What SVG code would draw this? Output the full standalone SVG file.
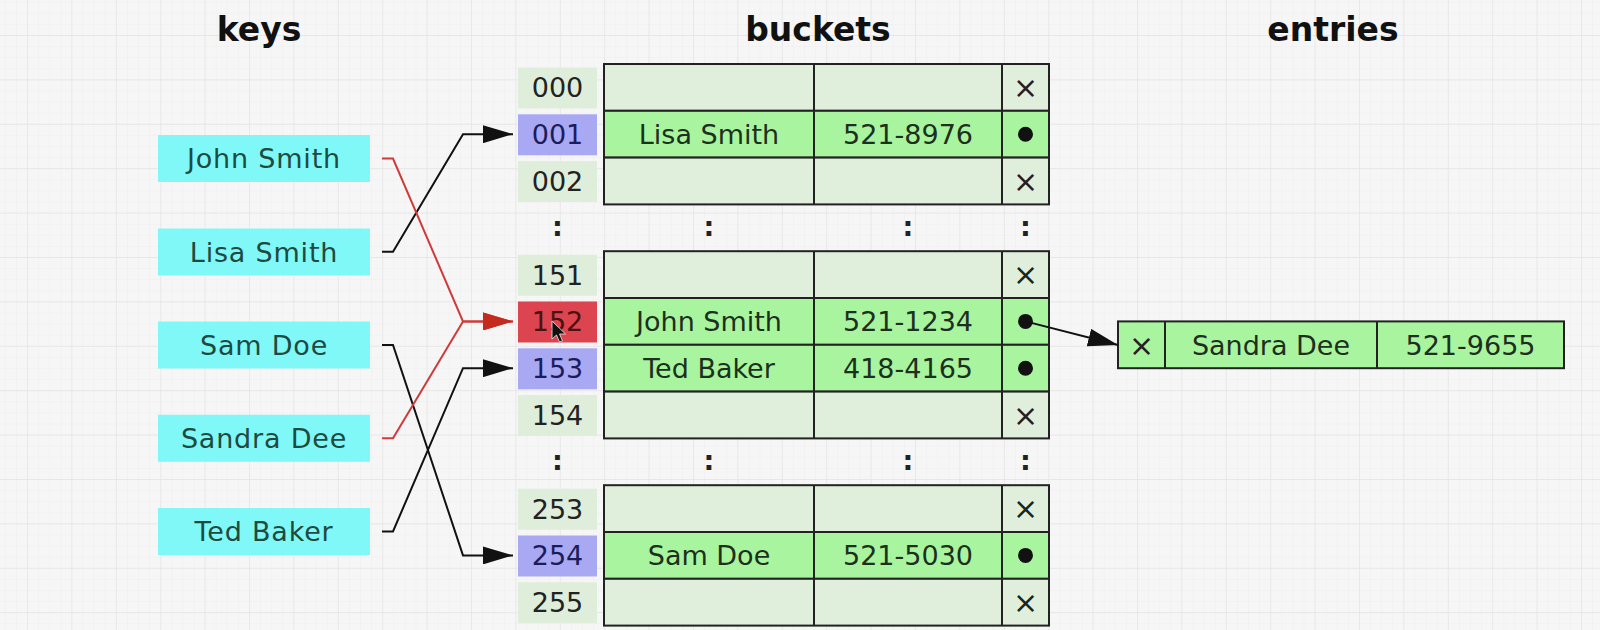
<svg xmlns="http://www.w3.org/2000/svg" width="1600" height="630" viewBox="0 0 1600 630">
<style>
.key{fill:#80f8f8}
.idx{fill:#dfeedb}
.idxb{fill:#a9a9f3}
.idxr{fill:#dc4450}
.empty{fill:#e0efdc;stroke:#222;stroke-width:2}
.full{fill:#a9f59f;stroke:#222;stroke-width:2}
.div{stroke:#222;stroke-width:2}
.t{font-family:"DejaVu Sans",sans-serif;font-size:27px;text-anchor:middle;fill:#1d2f1d}
.kt{font-family:"DejaVu Sans",sans-serif;font-size:27px;letter-spacing:0.8px;text-anchor:middle;fill:#1e4a40}
.it{font-family:"DejaVu Sans",sans-serif;font-size:27px;text-anchor:middle;fill:#222}
.x{font-family:"DejaVu Sans",sans-serif;font-size:30px;text-anchor:middle;fill:#222}
.dots{font-family:"DejaVu Sans",sans-serif;font-weight:bold;font-size:27px;text-anchor:middle;fill:#222}
.title{font-family:"DejaVu Sans",sans-serif;font-weight:bold;font-size:33px;text-anchor:middle;fill:#111}
.conn{fill:none;stroke:#111;stroke-width:2}
.red{fill:none;stroke:#cf3a3a;stroke-width:2}
</style>
<defs>
<pattern id="minor" patternUnits="userSpaceOnUse" x="27" y="35" width="11.1" height="11.1">
<path d="M0,0 H11.1 M0,0 V11.1" stroke="#eeeeee" stroke-width="1" fill="none"/>
</pattern>
<pattern id="major" patternUnits="userSpaceOnUse" x="27" y="35" width="44.4" height="44.4">
<path d="M0,0 H44.4 M0,0 V44.4" stroke="#e4e4e4" stroke-width="1.3" fill="none"/>
</pattern>
<marker id="ab" viewBox="0 0 30 18" refX="30" refY="9" markerWidth="30" markerHeight="18" markerUnits="userSpaceOnUse" orient="auto">
<path d="M0,0 L30,9 L0,18 z" fill="#111"/>
</marker>
<marker id="ar" viewBox="0 0 30 18" refX="30" refY="9" markerWidth="30" markerHeight="18" markerUnits="userSpaceOnUse" orient="auto">
<path d="M0,0 L30,9 L0,18 z" fill="#c42a1e"/>
</marker>
</defs>
<rect width="1600" height="630" fill="#f6f6f6"/>
<rect width="1600" height="630" fill="url(#minor)"/>
<rect width="1600" height="630" fill="url(#major)"/>

<g id="titles">
<text class="title" x="259" y="41">keys</text>
<text class="title" x="818" y="41">buckets</text>
<text class="title" x="1333" y="41">entries</text>
</g>

<g id="key-john"><rect class="key" x="158" y="135" width="212" height="47"/><text class="kt" x="264" y="168">John Smith</text></g>
<g id="key-lisa"><rect class="key" x="158" y="228.5" width="212" height="47"/><text class="kt" x="264" y="261.5">Lisa Smith</text></g>
<g id="key-sam"><rect class="key" x="158" y="321.5" width="212" height="47"/><text class="kt" x="264" y="354.5">Sam Doe</text></g>
<g id="key-sandra"><rect class="key" x="158" y="414.75" width="212" height="47"/><text class="kt" x="264" y="447.75">Sandra Dee</text></g>
<g id="key-ted"><rect class="key" x="158" y="508" width="212" height="47"/><text class="kt" x="264" y="541">Ted Baker</text></g>

<g id="index">
<rect class="idx" x="518" y="67.5" width="79" height="41"/><text class="it" x="557.5" y="97.4">000</text>
<rect class="idxb" x="518" y="114.3" width="79" height="41"/><text class="it" x="557.5" y="144.2" style="fill:#1c1c5a">001</text>
<rect class="idx" x="518" y="161.1" width="79" height="41"/><text class="it" x="557.5" y="191">002</text>
<text class="dots" x="557.5" y="235.5">:</text>
<rect class="idx" x="518" y="254.7" width="79" height="41"/><text class="it" x="557.5" y="284.6">151</text>
<rect class="idxr" x="518" y="301.5" width="79" height="41"/><text class="it" x="557.5" y="331.4" style="fill:#4a1212">152</text>
<rect class="idxb" x="518" y="348.3" width="79" height="41"/><text class="it" x="557.5" y="378.2" style="fill:#1c1c5a">153</text>
<rect class="idx" x="518" y="395.1" width="79" height="41"/><text class="it" x="557.5" y="425">154</text>
<text class="dots" x="557.5" y="469.5">:</text>
<rect class="idx" x="518" y="488.7" width="79" height="41"/><text class="it" x="557.5" y="518.6">253</text>
<rect class="idxb" x="518" y="535.5" width="79" height="41"/><text class="it" x="557.5" y="565.4" style="fill:#1c1c5a">254</text>
<rect class="idx" x="518" y="582.3" width="79" height="41"/><text class="it" x="557.5" y="612.2">255</text>
</g>

<g id="bucket-block1">
<rect class="empty" x="604" y="64" width="445" height="46.8"/>
<rect class="full" x="604" y="110.8" width="445" height="46.8"/>
<rect class="empty" x="604" y="157.6" width="445" height="46.8"/>
<line class="div" x1="814" y1="64" x2="814" y2="204.4"/>
<line class="div" x1="1002" y1="64" x2="1002" y2="204.4"/>
<text class="x" x="1025.5" y="98.2">×</text>
<text class="t" x="709" y="144.2">Lisa Smith</text><text class="t" x="908" y="144.2">521-8976</text>
<circle cx="1025.5" cy="134.2" r="7.5" fill="#111"/>
<text class="x" x="1025.5" y="191.8">×</text>
</g>

<g id="dots1">
<text class="dots" x="709" y="235.5">:</text>
<text class="dots" x="908" y="235.5">:</text>
<text class="dots" x="1025.5" y="235.5">:</text>
</g>

<g id="bucket-block2">
<rect class="empty" x="604" y="251.2" width="445" height="46.8"/>
<rect class="full" x="604" y="298" width="445" height="46.8"/>
<rect class="full" x="604" y="344.8" width="445" height="46.8"/>
<rect class="empty" x="604" y="391.6" width="445" height="46.8"/>
<line class="div" x1="814" y1="251.2" x2="814" y2="438.4"/>
<line class="div" x1="1002" y1="251.2" x2="1002" y2="438.4"/>
<text class="x" x="1025.5" y="285.4">×</text>
<text class="t" x="709" y="331.4">John Smith</text><text class="t" x="908" y="331.4">521-1234</text>
<circle cx="1025.5" cy="321.4" r="7.5" fill="#111"/>
<text class="t" x="709" y="378.2">Ted Baker</text><text class="t" x="908" y="378.2">418-4165</text>
<circle cx="1025.5" cy="368.2" r="7.5" fill="#111"/>
<text class="x" x="1025.5" y="425.8">×</text>
</g>

<g id="dots2">
<text class="dots" x="709" y="469.5">:</text>
<text class="dots" x="908" y="469.5">:</text>
<text class="dots" x="1025.5" y="469.5">:</text>
</g>

<g id="bucket-block3">
<rect class="empty" x="604" y="485.2" width="445" height="46.8"/>
<rect class="full" x="604" y="532" width="445" height="46.8"/>
<rect class="empty" x="604" y="578.8" width="445" height="46.8"/>
<line class="div" x1="814" y1="485.2" x2="814" y2="625.6"/>
<line class="div" x1="1002" y1="485.2" x2="1002" y2="625.6"/>
<text class="x" x="1025.5" y="519.4">×</text>
<text class="t" x="709" y="565.4">Sam Doe</text><text class="t" x="908" y="565.4">521-5030</text>
<circle cx="1025.5" cy="555.4" r="7.5" fill="#111"/>
<text class="x" x="1025.5" y="613">×</text>
</g>

<g id="entry-sandra">
<rect class="full" x="1118" y="321.4" width="446" height="46.8"/>
<line class="div" x1="1165" y1="321.4" x2="1165" y2="368.2"/>
<line class="div" x1="1377" y1="321.4" x2="1377" y2="368.2"/>
<text class="x" x="1141.5" y="355.6">×</text>
<text class="t" x="1271" y="354.8">Sandra Dee</text>
<text class="t" x="1470.5" y="354.8">521-9655</text>
</g>

<g id="connectors">
<path class="conn" d="M382,251.75 H393 L463,134.2 H513" marker-end="url(#ab)"/>
<path class="conn" d="M382,345 H393 L463,555.4 H513" marker-end="url(#ab)"/>
<path class="conn" d="M382,531.5 H393 L463,368.2 H513" marker-end="url(#ab)"/>
<path class="red" d="M382,158.5 H393 L463,321.4 H513" marker-end="url(#ar)"/>
<path class="red" d="M382,438.25 H393 L463,321.4 H513" marker-end="url(#ar)"/>
<path class="conn" d="M1025.5,321.4 L1118,345" marker-end="url(#ab)"/>
</g>

<g id="cursor">
<path d="M552,321 V339 L556.5,335 L559.5,342 L562.5,340.8 L559.5,334 L565.5,334 Z" fill="#111" stroke="#eee" stroke-width="0.8"/>
</g>
</svg>
